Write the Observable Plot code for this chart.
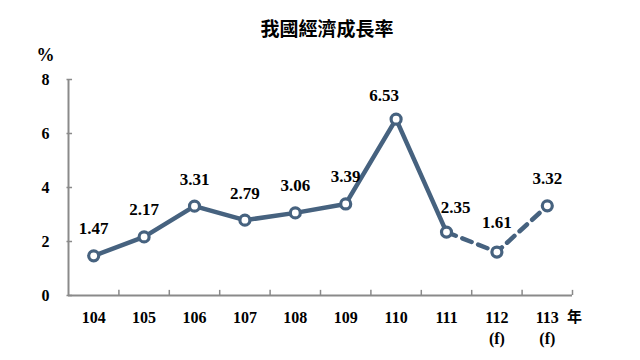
<!DOCTYPE html>
<html>
<head>
<meta charset="utf-8">
<script src="https://cdn.jsdelivr.net/npm/d3@7"></script>
<script src="https://cdn.jsdelivr.net/npm/@observablehq/plot@0.6"></script>
<style>
  html, body { margin: 0; padding: 0; background: #fff; }
  #title { width: 640px; height: 46px; box-sizing: border-box; padding: 18px 0 0 14px; text-align: center;
           font: bold 19px "Noto Sans CJK TC", "Liberation Serif", serif; color: #000; line-height: 20px; }
  #chart svg { display: block; }
  #chart svg text.num { font-family: "Liberation Serif", "Times New Roman", Times, serif !important; }
</style>
</head>
<body>
<div id="title">我國經濟成長率</div>
<div id="chart"></div>
<script>
const years = [104, 105, 106, 107, 108, 109, 110, 111, 112, 113];
const values = [1.47, 2.17, 3.31, 2.79, 3.06, 3.39, 6.53, 2.35, 1.61, 3.32];
const yearLabels = ["104", "105", "106", "107", "108", "109", "110", "111", "112", "113"];
const notes = ["", "", "", "", "", "", "", "", "(f)", "(f)"];
const yTicks = [0, 2, 4, 6, 8];
const forecastStart = 111;
const unitLabel = "年";
const yUnit = "%";

const color = "#46627f";
const axisColor = "#8a8a8a";
const data = years.map((year, i) => ({year, value: values[i], label: yearLabels[i], note: notes[i]}));
const xDomain = [years[0] - 0.5, years[years.length - 1] + 0.5];
const boundaries = years.map(y => y + 0.5);
const labelNudge = {110: -0.24, 111: 0.18};
const labelLift = {110: -24, 111: -25, 112: -29};

const font = "Liberation Serif";
const txt = {fontFamily: font, fontWeight: "bold", fill: "#000"};

const plot = Plot.plot({
  width: 640,
  height: 314,
  marginLeft: 68,
  marginRight: 68,
  marginTop: 33,
  marginBottom: 65,
  style: {"font-size": "15px", "font-weight": "bold", "color": "#000", "background": "#fff"},
  x: {type: "linear", domain: xDomain, axis: null},
  y: {domain: [0, 8], axis: null},
  marks: [
    Plot.ruleY([0], {stroke: axisColor, strokeWidth: 2}),
    Plot.ruleX([xDomain[0]], {y1: 0, y2: 8, stroke: axisColor, strokeWidth: 2}),
    Plot.ruleX(boundaries, {y1: 0, y2: 0.19, stroke: axisColor, strokeWidth: 1.5}),
    Plot.ruleY(yTicks, {x1: xDomain[0] - 0.03, x2: xDomain[0] + 0.08, stroke: axisColor, strokeWidth: 1.5}),
    Plot.text(yTicks, {x: () => xDomain[0], y: d => d, text: d => String(d), dx: -23, fontSize: 16, ...txt}),
    Plot.text([yUnit], {x: () => xDomain[0], y: () => 8, text: d => d, dx: -23, dy: -24, fontSize: 18, ...txt}),
    Plot.text(data, {x: "year", y: () => 0, text: "label", dy: 22, fontSize: 16, ...txt}),
    Plot.text(data.filter(d => d.note), {x: "year", y: () => 0, text: "note", dy: 43, fontSize: 16, ...txt}),
    Plot.text([unitLabel], {x: () => xDomain[1], y: () => 0, text: d => d, dx: 2, dy: 22, fontSize: 15, fontWeight: "bold", fill: "#000", fontFamily: "Noto Sans CJK TC"}),
    Plot.line(data.filter(d => d.year <= forecastStart), {x: "year", y: "value", stroke: color, strokeWidth: 4.5, strokeLinejoin: "round"}),
    Plot.line(data.filter(d => d.year >= forecastStart), {x: "year", y: "value", stroke: color, strokeWidth: 4.5, strokeDasharray: "10,7"}),
    Plot.dot(data, {x: "year", y: "value", r: 5, fill: "#fff", stroke: color, strokeWidth: 3.2}),
    ...[-27, -24, -25, -29].map(lift =>
      Plot.text(data.filter(d => (labelLift[d.year] ?? -27) === lift), {
        x: d => d.year + (labelNudge[d.year] || 0), y: "value",
        text: d => d.value.toFixed(2), dy: lift, fontSize: 17, ...txt
      })
    )
  ]
});
d3.select(plot).selectAll("text").filter(function() { return this.getAttribute("font-family") === font; }).classed("num", true);
d3.select(plot).selectAll("g[font-family='Liberation Serif'] text").classed("num", true);
document.getElementById("chart").appendChild(plot);
</script>
</body>
</html>
